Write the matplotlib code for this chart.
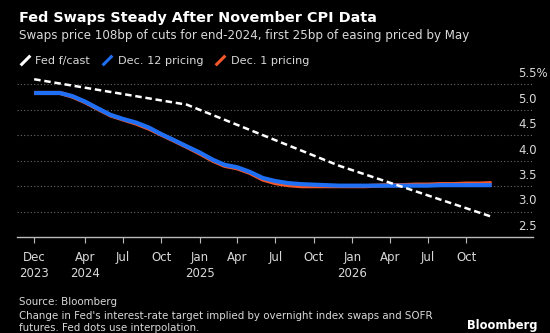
import matplotlib
matplotlib.use("Agg")
import matplotlib.pyplot as plt
import matplotlib.transforms as mtransforms
from matplotlib.lines import Line2D
import pandas as pd

# Monthly OIS/SOFR implied policy rate paths, Dec 2023 - Dec 2026
months = pd.date_range("2023-12-01", "2026-12-01", freq="MS")
dec12_pricing = [5.33, 5.33, 5.33, 5.27, 5.16, 5.03, 4.90, 4.82, 4.75, 4.65,
                 4.52, 4.40, 4.28, 4.16, 4.02, 3.92, 3.87, 3.78, 3.66, 3.60,
                 3.56, 3.54, 3.53, 3.52, 3.51, 3.51, 3.51, 3.51, 3.51, 3.51,
                 3.51, 3.51, 3.52, 3.52, 3.52, 3.52, 3.52]
dec1_pricing = [5.33, 5.33, 5.33, 5.26, 5.15, 5.02, 4.89, 4.81, 4.73, 4.63,
                4.51, 4.39, 4.27, 4.14, 4.00, 3.90, 3.85, 3.76, 3.63, 3.56,
                3.52, 3.50, 3.50, 3.50, 3.50, 3.50, 3.50, 3.51, 3.52, 3.52,
                3.53, 3.53, 3.54, 3.54, 3.55, 3.55, 3.56]

# Fed dot-plot medians (joined by straight segments)
fed_dates = pd.to_datetime(["2023-12-01", "2024-12-01", "2025-12-01", "2026-12-01"])
fed_forecast = [5.6, 5.1, 3.9, 2.9]

y_ticks = [2.5, 3.0, 3.5, 4.0, 4.5, 5.0, 5.5]
y_tick_labels = ["2.5", "3.0", "3.5", "4.0", "4.5", "5.0", "5.5%"]
x_ticks = pd.to_datetime(["2023-12-01", "2024-04-01", "2024-07-01", "2024-10-01",
                          "2025-01-01", "2025-04-01", "2025-07-01", "2025-10-01",
                          "2026-01-01", "2026-04-01", "2026-07-01", "2026-10-01"])
x_tick_labels = ["Dec\n2023", "Apr\n2024", "Jul", "Oct", "Jan\n2025", "Apr",
                 "Jul", "Oct", "Jan\n2026", "Apr", "Jul", "Oct"]

BG = "black"
TXT = "#d9d9d9"
BLUE = "#1f6ff5"
ORANGE = "#f5582a"

plt.rcParams["font.family"] = "DejaVu Sans"

fig = plt.figure(figsize=(5.5, 3.33), dpi=100, facecolor=BG)
ax = fig.add_axes([0.031, 0.288, 0.938, 0.497], facecolor=BG)

ax.plot(months, dec1_pricing, color=ORANGE, lw=3.0, solid_capstyle="butt")
ax.plot(months, dec12_pricing, color=BLUE, lw=3.0, solid_capstyle="butt")
ax.plot(fed_dates, fed_forecast, color="white", lw=1.8, dashes=(2.6, 1.5))

ax.set_ylim(2.5, 5.75)
ax.set_xlim(pd.Timestamp("2023-10-21"), pd.Timestamp("2027-03-10"))

# dotted horizontal gridlines, labels sitting just above each line on the right
for v in y_ticks[1:]:
    ax.axhline(v, color="#6a6a6a", lw=0.8, ls=(0, (1, 2)), zorder=0)
trans = mtransforms.blended_transform_factory(ax.transAxes, ax.transData)
for v, lab in zip(y_ticks, y_tick_labels):
    ax.annotate(lab, xy=(0.971, v), xycoords=trans, xytext=(0, 3),
                textcoords="offset points", ha="left", va="bottom",
                color=TXT, fontsize=8.5)
ax.set_yticks([])

ax.set_xticks(x_ticks)
ax.set_xticklabels(x_tick_labels, color=TXT, fontsize=8.5, linespacing=1.35)
ax.tick_params(axis="x", colors="#bbbbbb", length=4, width=0.8, pad=6,
               labelcolor=TXT)
for side in ["top", "right", "left"]:
    ax.spines[side].set_visible(False)
ax.spines["bottom"].set_color("#bbbbbb")
ax.spines["bottom"].set_linewidth(1.0)

# headline, subtitle
fig.text(0.034, 0.947, "Fed Swaps Steady After November CPI Data", color="white",
         fontsize=10.4, fontweight="bold", va="center")
fig.text(0.034, 0.892, "Swaps price 108bp of cuts for end-2024, first 25bp of easing priced by May",
         color=TXT, fontsize=8.6, va="center")

# legend with slanted stroke icons
slash = [(-1, -1), (1, 1)]
handles = [
    Line2D([], [], ls="none", marker=slash, markersize=7, markeredgewidth=2.2,
           markeredgecolor=c)
    for c in ["white", BLUE, ORANGE]
]
fig.legend(handles, ["Fed f/cast", "Dec. 12 pricing", "Dec. 1 pricing"],
           loc="center left", bbox_to_anchor=(0.017, 0.818), ncol=3,
           frameon=False, fontsize=8.1, labelcolor=TXT, handlelength=1.0,
           handletextpad=0.4, columnspacing=1.05)

# footer
fig.text(0.034, 0.092, "Source: Bloomberg", color=TXT, fontsize=7.4, va="center")
fig.text(0.034, 0.052, "Change in Fed's interest-rate target implied by overnight index swaps and SOFR",
         color=TXT, fontsize=7.4, va="center")
fig.text(0.034, 0.015, "futures. Fed dots use interpolation.", color=TXT,
         fontsize=7.4, va="center")
fig.text(0.977, 0.024, "Bloomberg", color="white", fontsize=8.3,
         fontweight="bold", ha="right", va="center")

fig.savefig("out.png", dpi=100, facecolor=BG)
